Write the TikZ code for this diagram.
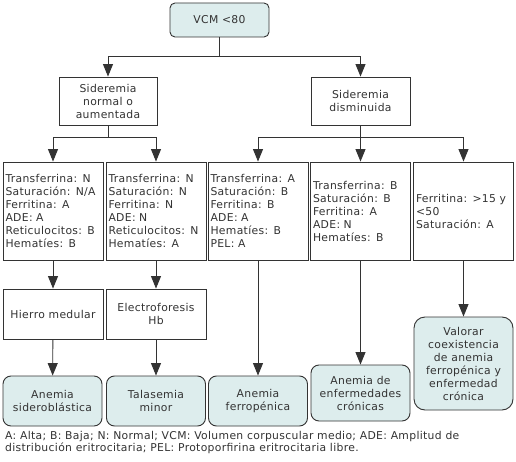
\documentclass[tikz,border=0pt]{standalone}
\usepackage{fontspec}
\setmainfont{DejaVu Sans}[LetterSpace=3]
\usepackage{tikz}
\usepackage{xcolor}
\usetikzlibrary{arrows.meta}
\definecolor{boxfill}{HTML}{DDEDED}
\definecolor{inkgray}{HTML}{333333}
\tikzset{
    plain-box/.style = {draw=inkgray, fill=white, line width=0.9pt, rectangle, text=inkgray, font=\fontsize{10.8}{13}\selectfont, inner sep=2.5pt},
    data-box/.style = {plain-box, minimum width=100pt, minimum height=98pt, align=left, text width=95pt},
    step-box/.style = {plain-box, minimum width=100pt, minimum height=50pt, align=center},
    result-box/.style = {plain-box, fill=boxfill, rounded corners=8pt, minimum width=99pt, align=center},
    link/.style = {draw=inkgray, line width=0.9pt},
    link-arrow/.style = {link, -{Triangle[length=12.5pt,width=10pt]}},
}

\begin{document}
\begin{tikzpicture}[x=1pt,y=-1pt]
\useasboundingbox[fill=white] (0,0) rectangle (516,462);

\node[result-box, rounded corners=5pt, minimum height=34pt] (vcm) at (219.5,20) {VCM <80};

\node[step-box, minimum width=98pt, minimum height=48pt] (sidnormal) at (108,101) {Sideremia\\normal o\\aumentada};
\node[step-box, minimum width=99pt, minimum height=48pt] (sidlow) at (360.5,101) {Sideremia\\disminuida};

\node[data-box] (labsidero) at (53,211) {Transferrina: N\\Saturación: N/A\\Ferritina: A\\ADE: A\\Reticulocitos: B\\Hematíes: B};
\node[data-box] (labtalas) at (156,211) {Transferrina: N\\Saturación: N\\Ferritina: N\\ADE: N\\Reticulocitos: N\\Hematíes: A};
\node[data-box] (labferro) at (258,211) {Transferrina: A\\Saturación: B\\Ferritina: B\\ADE: A\\Hematíes: B\\PEL: A};
\node[data-box, minimum width=99pt] (labcronic) at (360.5,211) {Transferrina: B\\Saturación: B\\Ferritina: A\\ADE: N\\Hematíes: B};
\node[data-box, minimum width=99pt] (labmixed) at (463.5,211) {Ferritina: >15 y\\<50\\Saturación: A};

\node[step-box] (hierro) at (53,314) {Hierro medular};
\node[step-box] (electro) at (156,314) {Electroforesis\\Hb};

\node[result-box, minimum height=50pt] (sidero) at (52.5,401) {Anemia\\sideroblástica};
\node[result-box, minimum height=50pt] (talas) at (156,401) {Talasemia\\minor};
\node[result-box, minimum height=50pt] (ferro) at (258,401) {Anemia\\ferropénica};
\node[result-box, minimum height=56pt] (cronic) at (360.5,393) {Anemia de\\enfermedades\\crónicas};
\node[result-box, rounded corners=11pt, minimum height=93pt] (mixed) at (463.5,363.5) {Valorar\\coexistencia\\de anemia\\ferropénica y\\enfermedad\\crónica};

\coordinate (split-top) at (219.5,56);
\coordinate (split-normal) at (108,137);
\coordinate (split-low) at (360.5,137);

\draw[link] (vcm) -- (split-top);
\draw[link-arrow] (split-top) -| (sidnormal);
\draw[link-arrow] (split-top) -| (sidlow);

\draw[link] (sidnormal) -- (split-normal);
\draw[link-arrow] (split-normal) -| (labsidero);
\draw[link-arrow] (split-normal) -| (labtalas);

\draw[link] (sidlow) -- (split-low);
\draw[link-arrow] (split-low) -| (labferro);
\draw[link-arrow] (split-low) -- (labcronic);
\draw[link-arrow] (split-low) -| (labmixed);

\draw[link-arrow] (labsidero) -- (hierro);
\draw[link-arrow] (labtalas) -- (electro);
\draw[link-arrow] (hierro) -- (sidero);
\draw[link-arrow] (electro) -- (talas);
\draw[link-arrow] (labferro) -- (ferro);
\draw[link-arrow] (labcronic) -- (cronic);
\draw[link-arrow] (labmixed) -- (mixed);

\node[anchor=north west, align=left, text=inkgray, font=\fontsize{10.8}{12}\selectfont, inner sep=0pt] (legend) at (5,431) {A: Alta; B: Baja; N: Normal; VCM: Volumen corpuscular medio; ADE: Amplitud de\\distribución eritrocitaria; PEL: Protoporfirina eritrocitaria libre.};
\end{tikzpicture}
\end{document}
